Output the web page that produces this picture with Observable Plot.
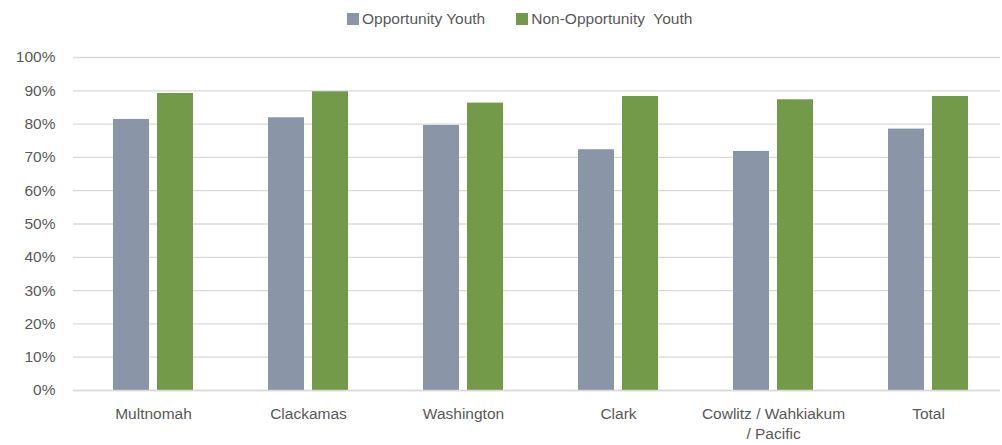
<!DOCTYPE html>
<html>
<head>
<meta charset="utf-8">
<script src="https://cdn.jsdelivr.net/npm/d3@7"></script>
<script src="https://cdn.jsdelivr.net/npm/@observablehq/plot@0.6"></script>
<style>
  body { margin: 0; background: #fff; font-family: "Liberation Sans", Arial, sans-serif; }
  #wrap { position: relative; width: 1002px; height: 445px; }
  #legend { position: absolute; top: 8px; left: 347px; height: 22px; display: flex; align-items: center; font-size: 15.5px; color: #595959; white-space: pre; }
  .sw { width: 12px; height: 12px; display: inline-block; margin-right: 3px; }
  .item { display: flex; align-items: center; margin-right: 31px; }
  #chart { position: absolute; top: 35px; left: 0; }
</style>
</head>
<body>
<div id="wrap">
  <div id="legend"></div>
  <div id="chart"></div>
</div>
<script>
const categories = ["Multnomah", "Clackamas", "Washington", "Clark", "Cowlitz / Wahkiakum\n/ Pacific", "Total"];
const series = ["Opportunity Youth", "Non-Opportunity  Youth"];
const opportunity = [0.814, 0.819, 0.796, 0.723, 0.718, 0.785];
const nonOpportunity = [0.892, 0.897, 0.863, 0.883, 0.873, 0.883];
const colors = ["#8a95a8", "#739a49"];
const yTicks = [0, 0.1, 0.2, 0.3, 0.4, 0.5, 0.6, 0.7, 0.8, 0.9, 1.0];

const rows = [];
categories.forEach((c, i) => {
  rows.push({category: c, series: series[0], value: opportunity[i]});
  rows.push({category: c, series: series[1], value: nonOpportunity[i]});
});

const legend = document.getElementById("legend");
series.forEach((s, i) => {
  const it = document.createElement("div");
  it.className = "item";
  it.innerHTML = `<span class="sw" style="background:${colors[i]}"></span><span>${s}</span>`;
  legend.appendChild(it);
});

const chart = Plot.plot({
  width: 1002,
  height: 410,
  marginTop: 22,
  marginBottom: 55,
  marginLeft: 73,
  marginRight: 2,
  style: {fontFamily: "'Liberation Sans', Arial, sans-serif", fontSize: "15.5px", color: "#595959"},
  x: {domain: categories, paddingInner: 0.487, paddingOuter: 0.2166, align: 0.55, label: null, tickSize: 0, tickPadding: 14},
  y: {domain: [0, 1], ticks: yTicks, tickFormat: d3.format(".0%"), label: null, tickSize: 0, tickPadding: 18},
  color: {domain: series, range: colors},
  marks: [
    Plot.gridY(yTicks, {stroke: "#d9d9d9", strokeOpacity: 1, strokeWidth: 1.3}),
    Plot.barY(rows.filter(d => d.series === series[0]), {x: "category", y: "value", fill: "series", insetRight: 44}),
    Plot.barY(rows.filter(d => d.series === series[1]), {x: "category", y: "value", fill: "series", insetLeft: 44}),
    Plot.ruleY([0], {stroke: "#d9d9d9", strokeWidth: 1.3}),
    Plot.axisX({tickSize: 0, tickPadding: 14, lineHeight: 1.3, fill: "#595959"}),
    Plot.axisY({ticks: yTicks, tickFormat: d3.format(".0%"), tickSize: 0, tickPadding: 18, fill: "#595959"})
  ]
});
document.getElementById("chart").appendChild(chart);
</script>
</body>
</html>
